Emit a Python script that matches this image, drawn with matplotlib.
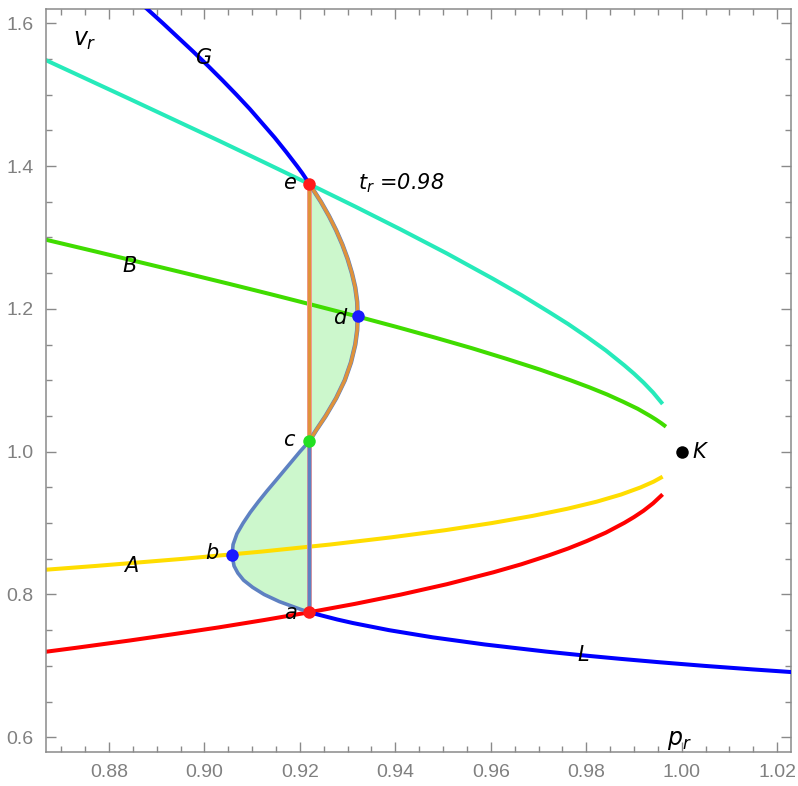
import matplotlib
matplotlib.use("Agg")
import matplotlib.pyplot as plt
from matplotlib.ticker import FixedLocator

# ---------------- data ----------------
# isotherm t_r = 0.98 : liquid branch L (v, p)
iso_L_v = [0.69, 0.695, 0.70, 0.705, 0.71, 0.715, 0.72, 0.73, 0.74, 0.75, 0.76,
           0.765, 0.77, 0.775]
iso_L_p = [1.0259, 1.0150, 1.0048, 0.9955, 0.9869, 0.9789, 0.9716, 0.9587, 0.9478,
           0.9387, 0.9311, 0.9278, 0.9249, 0.922]
# lower part of the loop a -> b -> c
loop_lo_v = [0.775, 0.78, 0.79, 0.80, 0.81, 0.82, 0.83, 0.84, 0.855, 0.87, 0.885,
             0.90, 0.915, 0.93, 0.945, 0.96, 0.98, 1.00, 1.015]
loop_lo_p = [0.922, 0.9198, 0.9157, 0.9125, 0.9101, 0.9082, 0.9070, 0.9062, 0.9058,
             0.9060, 0.9068, 0.9081, 0.9096, 0.9113, 0.9131, 0.9150, 0.9175, 0.9200, 0.922]
# upper part of the loop c -> d -> e
loop_hi_v = [1.015, 1.03, 1.05, 1.075, 1.10, 1.125, 1.15, 1.17, 1.19, 1.21, 1.23,
             1.25, 1.27, 1.29, 1.31, 1.33, 1.35, 1.375]
loop_hi_p = [0.922, 0.9234, 0.9254, 0.9276, 0.9294, 0.9307, 0.9316, 0.9320, 0.9321,
             0.9320, 0.9316, 0.9309, 0.9300, 0.9289, 0.9276, 0.9261, 0.9244, 0.922]
# gas branch G
iso_G_v = [1.375, 1.39, 1.40, 1.42, 1.44, 1.46, 1.48, 1.50, 1.52, 1.54, 1.56, 1.58,
           1.60, 1.62, 1.63]
iso_G_p = [0.922, 0.9205, 0.9194, 0.9171, 0.9147, 0.9121, 0.9095, 0.9067, 0.9038,
           0.9008, 0.8977, 0.8945, 0.8913, 0.8880, 0.8863]

# spinodal, gas side (B, green) and liquid side (A, yellow)
spin_B_v = [1.035, 1.04, 1.045, 1.05, 1.06, 1.07, 1.08, 1.09, 1.10, 1.115, 1.13, 1.145,
            1.16, 1.175, 1.19, 1.205, 1.22, 1.235, 1.25, 1.265, 1.28, 1.30]
spin_B_p = [0.9967, 0.9957, 0.9946, 0.9934, 0.9908, 0.9877, 0.9844, 0.9807, 0.9767,
            0.9703, 0.9633, 0.9560, 0.9482, 0.9401, 0.9317, 0.9230, 0.9142, 0.9052,
            0.8960, 0.8867, 0.8774, 0.8648]
spin_A_v = [0.83, 0.835, 0.84, 0.85, 0.86, 0.87, 0.88, 0.89, 0.90, 0.91, 0.92, 0.93,
            0.94, 0.95, 0.958, 0.965]
spin_A_p = [0.8570, 0.8674, 0.8773, 0.8956, 0.9119, 0.9264, 0.9391, 0.9504, 0.9602,
            0.9687, 0.9760, 0.9822, 0.9873, 0.9914, 0.9941, 0.9960]

# coexistence curve: pressure, liquid volume (red, left side), gas volume (cyan)
bin_p = [0.8622, 0.8732, 0.8843, 0.8936, 0.9030, 0.9124, 0.9219, 0.9315, 0.9411,
         0.9508, 0.9605, 0.9664, 0.9722, 0.9762, 0.9801, 0.9841, 0.9880, 0.9900,
         0.9920, 0.9940, 0.9960]
bin_vl = [0.7158, 0.7254, 0.7355, 0.7445, 0.7539, 0.7641, 0.775, 0.7868, 0.7998,
          0.8144, 0.831, 0.8423, 0.8549, 0.8644, 0.8748, 0.8866, 0.9004, 0.9084,
          0.9173, 0.9277, 0.9402]
bin_vg = [1.5625, 1.5285, 1.4941, 1.4650, 1.4356, 1.4056, 1.375, 1.3436, 1.3113,
          1.2776, 1.242, 1.2194, 1.1956, 1.1788, 1.1610, 1.1418, 1.1208, 1.1093,
          1.0968, 1.0829, 1.0668]

# maxwell pressure
p_maxwell = 0.922
v_a, v_c, v_e = 0.775, 1.015, 1.375

# marked points
pts_name = ["e", "d", "c", "b", "a", "K"]
pts_p = [0.922, 0.9321, 0.922, 0.9058, 0.922, 1.0]
pts_v = [1.375, 1.19, 1.015, 0.855, 0.775, 1.0]
pts_col = ["#FF1A1A", "#1A1AFF", "#22E022", "#1A1AFF", "#FF1A1A", "#000000"]

# text labels
lab_txt = ["G", "B", "A", "L", "e", "d", "c", "b", "a"]
lab_x = [0.8997, 0.8844, 0.8846, 0.9793, 0.9179, 0.9284, 0.9177, 0.9016, 0.9181]
lab_y = [1.5514, 1.2601, 0.8399, 0.7153, 1.3763, 1.1873, 1.0164, 0.8581, 0.7741]

x_ticks = [0.88, 0.90, 0.92, 0.94, 0.96, 0.98, 1.00, 1.02]
x_ticklabels = ["0.88", "0.90", "0.92", "0.94", "0.96", "0.98", "1.00", "1.02"]
y_ticks = [0.6, 0.8, 1.0, 1.2, 1.4, 1.6]
y_ticklabels = ["0.6", "0.8", "1.0", "1.2", "1.4", "1.6"]

# ---------------- figure ----------------
fig = plt.figure(figsize=(7.98, 7.86), dpi=100)
ax = fig.add_axes([46 / 798, 34.3 / 786, 745 / 798, 742.7 / 786])
ax.set_xlim(0.8668, 1.0229)
ax.set_ylim(0.5798, 1.620)

LW = 2.9
BLUE = "#0000FF"
kw = dict(solid_joinstyle="round", solid_capstyle="butt")

# fill of the two lobes
ax.fill(loop_lo_p, loop_lo_v, color="#CCF7CC", lw=0, zorder=1)
ax.fill(loop_hi_p, loop_hi_v, color="#CCF7CC", lw=0, zorder=1)

# curves
ax.plot(bin_p, bin_vg, color="#26EABA", lw=LW, zorder=2, **kw)
ax.plot(spin_B_p, spin_B_v, color="#40DC00", lw=LW, zorder=2, **kw)
ax.plot(spin_A_p, spin_A_v, color="#FFDD00", lw=LW, zorder=2, **kw)
ax.plot(bin_p, bin_vl, color="#FF0000", lw=LW, zorder=2, **kw)

ax.plot(iso_G_p, iso_G_v, color=BLUE, lw=LW, zorder=3, **kw)
ax.plot(iso_L_p, iso_L_v, color=BLUE, lw=LW, zorder=3, **kw)

# tie line and lobes' edges
ax.plot([p_maxwell, p_maxwell], [v_a, v_e], color="#F49A9A", lw=3.6, zorder=3)
ax.plot(loop_lo_p + [p_maxwell], loop_lo_v + [v_a], color="#5E81C2", lw=2.6,
        zorder=4, solid_joinstyle="round")
ax.plot(loop_hi_p, loop_hi_v, color="#5E81C2", lw=3.2, zorder=4, solid_joinstyle="round")
ax.plot(loop_hi_p + [p_maxwell], loop_hi_v + [v_c], color="#E0923A", lw=2.4,
        zorder=5, solid_joinstyle="round")

# points
for n, px, vy, c in zip(pts_name, pts_p, pts_v, pts_col):
    ax.plot([px], [vy], "o", color=c, ms=9, mec="none", zorder=6)

# labels
for t, x, y in zip(lab_txt, lab_x, lab_y):
    ax.text(x, y, t, fontsize=15, family="DejaVu Sans", style="italic",
            ha="center", va="center", zorder=7)
ax.text(1.0022, 0.9996, "K", fontsize=15, family="DejaVu Sans", style="italic",
        ha="left", va="center", zorder=7)
ax.text(0.8750, 1.5766, r"$v_r$", fontsize=17, ha="center", va="center", zorder=7)
ax.text(0.9996, 0.5962, r"$p_r$", fontsize=17, ha="center", va="center", zorder=7)
ax.text(0.9322, 1.3763, r"$t_r$ =0.98", fontsize=15, family="DejaVu Sans",
        style="italic", ha="left", va="center", zorder=7)

# frame & ticks
ax.xaxis.set_major_locator(FixedLocator(x_ticks))
ax.set_xticklabels(x_ticklabels)
ax.yaxis.set_major_locator(FixedLocator(y_ticks))
ax.set_yticklabels(y_ticklabels)
ax.xaxis.set_minor_locator(FixedLocator([0.87 + 0.005 * i for i in range(32)]))
ax.yaxis.set_minor_locator(FixedLocator([0.6 + 0.05 * i for i in range(21)]))
for s in ax.spines.values():
    s.set_color("#8A8A8A")
    s.set_linewidth(1.1)
ax.tick_params(which="both", direction="in", top=True, right=True,
               color="#8A8A8A", width=1.0)
ax.tick_params(which="major", length=7, pad=9)
ax.tick_params(which="minor", length=4)
for lbl in ax.get_xticklabels() + ax.get_yticklabels():
    lbl.set_fontfamily("Liberation Sans")
    lbl.set_fontsize(14)
    lbl.set_color("#808080")

fig.savefig("out.png", dpi=100)
